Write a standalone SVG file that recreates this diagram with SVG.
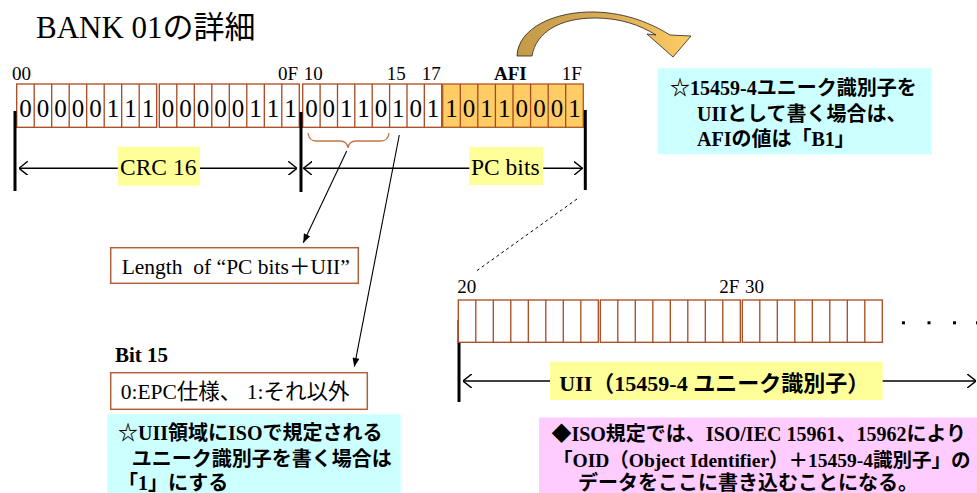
<svg xmlns="http://www.w3.org/2000/svg" width="977" height="493" viewBox="0 0 977 493">
<defs>
<style>
.ser{font-family:"Liberation Serif","Noto Sans CJK JP",serif;fill:#000}
.jp{font-family:"Liberation Serif","Noto Sans CJK JP",serif;font-weight:bold;fill:#000}
.cell{fill:#fff;stroke:#A9481F;stroke-width:1.3}
.afi{fill:#FFCC66;stroke:#B0561F;stroke-width:1.3}
.div{stroke:#A9481F;stroke-width:1.3;fill:none}
.bar{stroke:#000;stroke-width:3}
.dim{stroke:#000;stroke-width:1.4;fill:none}
.hl{fill:#FFFF99}
.note{fill:#CCFFFF}
.box{fill:#fff;stroke:#B0603A;stroke-width:1.5}
</style>
<marker id="chev" viewBox="0 0 10 16" refX="10" refY="8" markerWidth="9" markerHeight="14" markerUnits="userSpaceOnUse" orient="auto-start-reverse">
<path d="M0,0 L10,8 L0,16" fill="none" stroke="#000" stroke-width="1.6"/>
</marker>
<marker id="tri" viewBox="0 0 10 8" refX="10" refY="4" markerWidth="9" markerHeight="7" markerUnits="userSpaceOnUse" orient="auto">
<path d="M0,0 L10,4 L0,8 Z" fill="#000"/>
</marker>
<linearGradient id="gold" x1="0" y1="0" x2="1" y2="0">
<stop offset="0" stop-color="#C49A48"/>
<stop offset="0.55" stop-color="#DDAE55"/>
<stop offset="1" stop-color="#FFCC66"/>
</linearGradient>
</defs>

<g id="connectors">
<line class="dim" x1="19" y1="168.3" x2="297" y2="168.3" marker-start="url(#chev)" marker-end="url(#chev)"/>
<line class="dim" x1="303.5" y1="168.3" x2="582.5" y2="168.3" marker-start="url(#chev)" marker-end="url(#chev)"/>
<line class="dim" x1="463" y1="381" x2="976" y2="381" marker-start="url(#chev)" marker-end="url(#chev)"/>
<path d="M308,133 Q309,141 316,141 L340,141 Q347,141 348,148 Q349,141 356,141 L381,141 Q388,141 389,133" fill="none" stroke="#C0764A" stroke-width="1.3"/>
<line x1="346.7" y1="151" x2="303.3" y2="242.7" stroke="#000" stroke-width="1.1" marker-end="url(#tri)"/>
<line x1="399.3" y1="135" x2="354.3" y2="366.7" stroke="#000" stroke-width="1.1" marker-end="url(#tri)"/>
<line x1="577" y1="199" x2="475" y2="272" stroke="#000" stroke-width="1" stroke-dasharray="3,3"/>
</g>

<text id="title" class="ser" x="36" y="38" font-size="31">BANK 01の詳細</text>

<g id="addr-top" class="ser" font-size="19">
<text x="12" y="80">00</text>
<text x="278" y="80">0F</text>
<text x="303.7" y="80">10</text>
<text x="386.7" y="80">15</text>
<text x="421.7" y="80">17</text>
<text x="494" y="80" font-weight="bold">AFI</text>
<text x="561.7" y="80">1F</text>
</g>

<g id="crc-group1">
<rect class="cell" x="16.7" y="84" width="140" height="43.3"/>
<path class="div" d="M34.2,84V127.3M51.7,84V127.3M69.2,84V127.3M86.7,84V127.3M104.2,84V127.3M121.7,84V127.3M139.2,84V127.3"/>
<text class="ser" font-size="25" text-anchor="middle" x="25.5 43 60.5 78 95.5 113 130.5 148" y="117">00000111</text>
</g>
<g id="crc-group2">
<rect class="cell" x="159.3" y="84" width="140" height="43.3"/>
<path class="div" d="M176.8,84V127.3M194.3,84V127.3M211.8,84V127.3M229.3,84V127.3M246.8,84V127.3M264.3,84V127.3M281.8,84V127.3"/>
<text class="ser" font-size="25" text-anchor="middle" x="168 185.5 203 220.5 238 255.5 273 290.5" y="117">00000111</text>
</g>
<g id="pc-group1">
<rect class="cell" x="302.7" y="84" width="139" height="43.3"/>
<path class="div" d="M320.1,84V127.3M337.5,84V127.3M354.8,84V127.3M372.2,84V127.3M389.6,84V127.3M407,84V127.3M424.3,84V127.3"/>
<text class="ser" font-size="25" text-anchor="middle" x="311.4 328.8 346.2 363.5 380.9 398.3 415.7 433" y="117">00110101</text>
</g>
<g id="afi-group">
<rect class="afi" x="442.7" y="84" width="140.6" height="43.3"/>
<path class="div" d="M460.3,84V127.3M477.8,84V127.3M495.4,84V127.3M513,84V127.3M530.6,84V127.3M548.2,84V127.3M565.7,84V127.3"/>
<text class="ser" font-size="25" text-anchor="middle" x="451.5 469.1 486.6 504.2 521.8 539.4 556.9 574.5" y="117">10110001</text>
</g>

<g id="bars">
<line class="bar" x1="15" y1="111" x2="15" y2="191"/>
<line class="bar" x1="301" y1="112" x2="301" y2="192"/>
<line class="bar" x1="585.3" y1="110" x2="585.3" y2="190"/>
<line class="bar" x1="459" y1="320" x2="459" y2="402"/>
</g>

<g id="crc16">
<rect class="hl" x="117.7" y="146.7" width="82.3" height="39"/>
<text class="ser" font-size="23.5" x="120" y="175">CRC 16</text>
</g>
<g id="pcbits">
<rect class="hl" x="469.3" y="147" width="74" height="38"/>
<text class="ser" font-size="23.5" x="471" y="175">PC bits</text>
</g>

<g id="curved-arrow">
<path d="M517,56 C518,28 555,11 595,12 C628,13 652,24 670,35 L691,36 L673,57 L647,34 L656,35 C640,25 620,18 595,18 C560,18 536,32 532,56 Z" fill="url(#gold)" stroke="#222" stroke-width="0.8" stroke-linejoin="round"/>
</g>

<g id="afi-note">
<rect class="note" x="657.7" y="68.3" width="274" height="86"/>
<text class="jp" font-size="20" x="670" y="95">☆15459-4ユニーク識別子を</text>
<text class="jp" font-size="20" x="697" y="121">UIIとして書く場合は、</text>
<text class="jp" font-size="20" x="697" y="146">AFIの値は「B1」</text>
</g>

<g id="length-box">
<rect class="box" x="110.7" y="247.7" width="247.6" height="35.6"/>
<text class="ser" font-size="21.5" x="121.7" y="274" style="white-space:pre">Length  of “PC bits＋UII”</text>
</g>

<g id="bit15">
<text class="ser" font-size="21" font-weight="bold" x="115" y="361.7">Bit 15</text>
<rect class="box" x="110.7" y="372.7" width="256.6" height="36.6"/>
<text class="ser" font-size="21.5" x="120.7" y="399.3">0:EPC仕様、 1:それ以外</text>
</g>

<g id="bit15-note">
<rect class="note" x="107.3" y="414.3" width="293.4" height="80"/>
<text class="jp" font-size="20" x="118" y="440">☆UII領域にISOで規定される</text>
<text class="jp" font-size="20" x="131.7" y="465.5">ユニーク識別子を書く場合は</text>
<text class="jp" font-size="20" x="118" y="490">「1」にする</text>
</g>

<g id="addr-bottom" class="ser" font-size="19">
<text x="457.3" y="292.7">20</text>
<text x="719.3" y="292.7">2F</text>
<text x="745" y="292.7">30</text>
</g>

<g id="uii-cells">
<rect class="cell" x="458.3" y="300" width="140" height="42.3"/>
<path class="div" d="M475.8,300V342.3M493.3,300V342.3M510.8,300V342.3M528.3,300V342.3M545.8,300V342.3M563.3,300V342.3M580.8,300V342.3"/>
<rect class="cell" x="600.3" y="300" width="140" height="42.3"/>
<path class="div" d="M617.8,300V342.3M635.3,300V342.3M652.8,300V342.3M670.3,300V342.3M687.8,300V342.3M705.3,300V342.3M722.8,300V342.3"/>
<rect class="cell" x="742.3" y="300" width="140" height="42.3"/>
<path class="div" d="M759.8,300V342.3M777.3,300V342.3M794.8,300V342.3M812.3,300V342.3M829.8,300V342.3M847.3,300V342.3M864.8,300V342.3"/>
</g>

<g id="ellipsis" fill="#000">
<rect x="902" y="321.3" width="3" height="3"/>
<rect x="927.5" y="321.3" width="3" height="3"/>
<rect x="953" y="321.3" width="3" height="3"/>
<rect x="976" y="321.3" width="3" height="3"/>
</g>

<g id="uii-label">
<rect class="hl" x="550" y="361.7" width="332.7" height="38.3"/>
<text class="jp" font-size="22" x="559.3" y="390.5">UII（15459-4 ユニーク識別子）</text>
</g>

<g id="iso-note">
<rect x="539" y="417.5" width="440" height="80" fill="#FFCCFF"/>
<text class="jp" font-size="20" x="551.4" y="441">◆ISO規定では、ISO/IEC 15961、15962により</text>
<text class="jp" font-size="19.5" x="553" y="467">「OID（Object Identifier）＋15459-4識別子」の</text>
<text class="jp" font-size="20" x="578" y="490">データをここに書き込むことになる。</text>
</g>
</svg>
